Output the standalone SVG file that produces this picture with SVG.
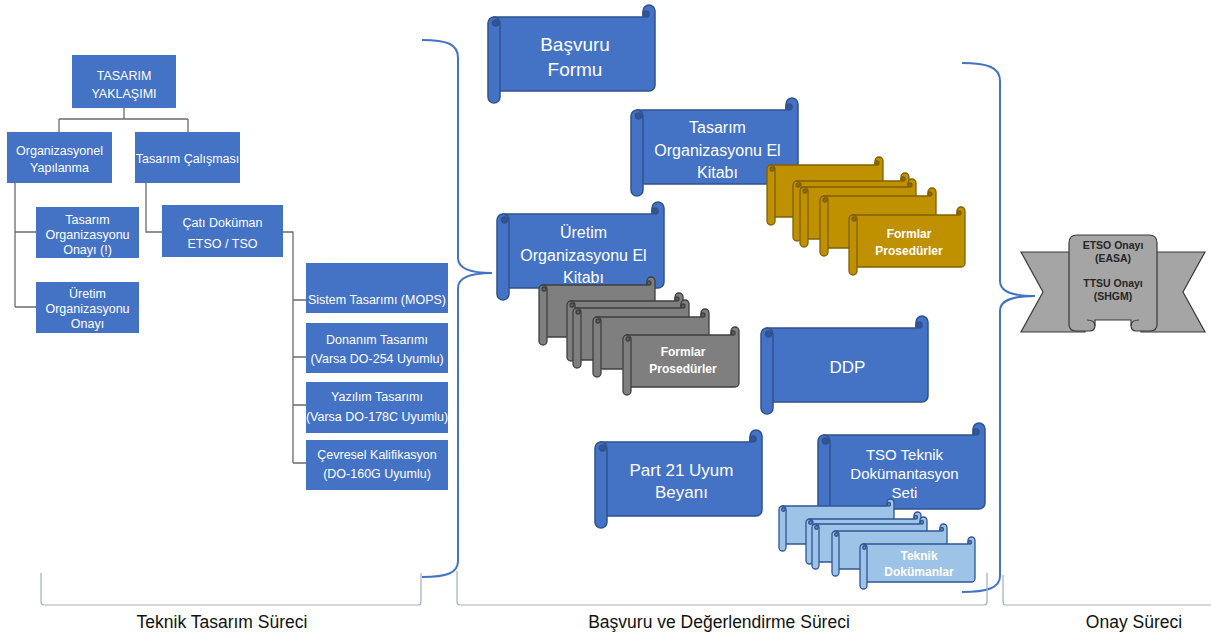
<svg xmlns="http://www.w3.org/2000/svg" width="1211" height="637" viewBox="0 0 1211 637">
<style>
text{font-family:"Liberation Sans",Arial,sans-serif}
.box{fill:#4472c4}
.bt{fill:#fff;font-size:12.5px;text-anchor:middle}
.tl{fill:none;stroke:#6b6b6b;stroke-width:1.3}
.brace{fill:none;stroke:#4472c4;stroke-width:2}
.brk{fill:none;stroke:#a3aebf;stroke-width:1.2}
.blue{fill:#4472c4;stroke:#2f528f;stroke-width:1.5}
.gold{fill:#bf9000;stroke:#7f6000;stroke-width:1.3}
.gray{fill:#7f7f7f;stroke:#3f3f3f;stroke-width:1.3}
.lblue{fill:#9dc3e6;stroke:#2f5597;stroke-width:1.3}
.st{fill:#fff;text-anchor:middle}
.sb{fill:#fff;text-anchor:middle;font-size:12px;font-weight:bold}
.rt{fill:#262626;text-anchor:middle;font-size:10.5px;font-weight:bold}
.rb{fill:#a5a5a5;stroke:#3a3a3a;stroke-width:1.2}
.lab{fill:#111;text-anchor:middle;font-size:17.5px}
</style>
<defs>
<g id="scrollL">
<path d="M6,12 L155,12 L155,6 A6,6 0 0 1 167,6 L167,80 A6,6 0 0 1 161,86 L6,86 Z"/>
<path d="M0,18 A6,6 0 0 1 12,18 L12,92 A6,6 0 0 1 0,92 Z"/>
<circle cx="158" cy="9" r="3" fill="#000" fill-opacity="0.25"/>
<circle cx="7.5" cy="18" r="3" fill="#000" fill-opacity="0.25"/>
</g>
<g id="scrollM">
<path d="M4,8 L108,8 L108,4 A4,4 0 0 1 116,4 L116,56 A4,4 0 0 1 112,60 L4,60 Z"/>
<path d="M0,12 A4,4 0 0 1 8,12 L8,64 A4,4 0 0 1 0,64 Z"/>
<circle cx="110" cy="6" r="2" fill="#000" fill-opacity="0.25"/>
<circle cx="5" cy="12" r="2" fill="#000" fill-opacity="0.25"/>
</g>
<g id="scrollS">
<path d="M3.5,7 L108,7 L108,3.5 A3.5,3.5 0 0 1 115,3.5 L115,41.5 A3.5,3.5 0 0 1 111.5,45 L3.5,45 Z"/>
<path d="M0,10.5 A3.5,3.5 0 0 1 7,10.5 L7,48.5 A3.5,3.5 0 0 1 0,48.5 Z"/>
<circle cx="109.75" cy="5.25" r="1.75" fill="#000" fill-opacity="0.25"/>
<circle cx="4.4" cy="10.5" r="1.75" fill="#000" fill-opacity="0.25"/>
</g>
</defs>

<g id="connectors">
<path class="tl" d="M124,108 L124,119 M59,119 L188,119 M59,119 L59,132 M188,119 L188,132"/>
<path class="tl" d="M15,183 L15,307 M15,232 L36,232 M15,307 L36,307"/>
<path class="tl" d="M146,183 L146,232 L162,232"/>
<path class="tl" d="M283,232 L293,232 L293,463 M293,300 L306,300 M293,357 L306,357 M293,405 L306,405 M293,463 L306,463"/>
<path class="brace" d="M422,40 C447,40 458,44 458,58 L458,258 C458,268 468,273 492,273 C468,273 458,278 458,288 L458,561 C458,573 447,577 422,577"/>
<path class="brace" d="M962,63 C987,63 1000,67 1000,81 L1000,281 C1000,291 1010,296 1035,296 C1010,296 1000,301 1000,311 L1000,576 C1000,588 987,592 962,592"/>
<path class="brk" d="M41,573 L41,602 Q41,605 44,605 L418,605 Q421,605 421,602 L421,573"/>
<path class="brk" d="M457,571 L457,602 Q457,605 460,605 L984,605 Q987,605 987,602 L987,573"/>
<path class="brk" d="M1003,575 L1003,602 Q1003,605 1006,605 L1211,605"/>
</g>

<g id="n-tasarim-yaklasimi"><rect class="box" x="72" y="55" width="104" height="53"/>
<text class="bt" x="124" y="79.5">TASARIM</text><text class="bt" x="124" y="97.5">YAKLAŞIMI</text></g>
<g id="n-org-yapilanma"><rect class="box" x="7" y="132" width="105" height="51"/>
<text class="bt" x="59.5" y="154.5">Organizasyonel</text><text class="bt" x="59.5" y="171.5">Yapılanma</text></g>
<g id="n-tasarim-calismasi"><rect class="box" x="135" y="132" width="105" height="51"/>
<text class="bt" x="187.5" y="162.5">Tasarım Çalışması</text></g>
<g id="n-tasarim-org-onayi"><rect class="box" x="36" y="207" width="103" height="51"/>
<text class="bt" x="87.5" y="223.5">Tasarım</text><text class="bt" x="87.5" y="238.5">Organizasyonu</text><text class="bt" x="87.5" y="253.5">Onayı (!)</text></g>
<g id="n-uretim-org-onayi"><rect class="box" x="36" y="282" width="103" height="51"/>
<text class="bt" x="87.5" y="297.5">Üretim</text><text class="bt" x="87.5" y="312.5">Organizasyonu</text><text class="bt" x="87.5" y="327.5">Onayı</text></g>
<g id="n-cati-dokuman"><rect class="box" x="162" y="205" width="121" height="52"/>
<text class="bt" x="222.5" y="226.5">Çatı Doküman</text><text class="bt" x="222.5" y="247.5">ETSO / TSO</text></g>
<g id="n-sistem"><rect class="box" x="306" y="263" width="142" height="50"/>
<text class="bt" x="377" y="304">Sistem Tasarımı (MOPS)</text></g>
<g id="n-donanim"><rect class="box" x="306" y="323" width="142" height="50"/>
<text class="bt" x="377" y="343.5">Donanım Tasarımı</text><text class="bt" x="377" y="362.5">(Varsa DO-254 Uyumlu)</text></g>
<g id="n-yazilim"><rect class="box" x="306" y="382" width="142" height="51"/>
<text class="bt" x="377" y="400.5">Yazılım Tasarımı</text><text class="bt" x="377" y="420.5" font-size="12">(Varsa DO-178C Uyumlu)</text></g>
<g id="n-cevresel"><rect class="box" x="306" y="440" width="142" height="50"/>
<text class="bt" x="377" y="458.5">Çevresel Kalifikasyon</text><text class="bt" x="377" y="477.5">(DO-160G Uyumlu)</text></g>

<g id="n-basvuru-formu"><use href="#scrollL" class="blue" x="488" y="5"/>
<text class="st" font-size="19" x="575" y="50.5">Başvuru</text><text class="st" font-size="19" x="575" y="75.5">Formu</text></g>

<g id="n-tasarim-el-kitabi"><use href="#scrollL" class="blue" x="631" y="98"/>
<text class="st" font-size="16" x="717.5" y="132.5">Tasarım</text><text class="st" font-size="16" x="717.5" y="155.5">Organizasyonu El</text><text class="st" font-size="16" x="717.5" y="177.5">Kitabı</text></g>

<g id="n-formlar-gold">
<use href="#scrollM" class="gold" x="767" y="157"/>
<use href="#scrollM" class="gold" x="793" y="173"/>
<use href="#scrollM" class="gold" x="800" y="179"/>
<use href="#scrollM" class="gold" x="820" y="188"/>
<use href="#scrollM" class="gold" x="849" y="207"/>
<text class="sb" x="909" y="238.3">Formlar</text><text class="sb" x="909" y="255.3">Prosedürler</text></g>

<g id="n-uretim-el-kitabi"><use href="#scrollL" class="blue" x="497" y="202"/>
<text class="st" font-size="16" x="583.5" y="237.5">Üretim</text><text class="st" font-size="16" x="583.5" y="260.5">Organizasyonu El</text><text class="st" font-size="16" x="583.5" y="282.5">Kitabı</text></g>

<g id="n-formlar-gray">
<use href="#scrollM" class="gray" x="539" y="277"/>
<use href="#scrollM" class="gray" x="567" y="293"/>
<use href="#scrollM" class="gray" x="573" y="300"/>
<use href="#scrollM" class="gray" x="593" y="309"/>
<use href="#scrollM" class="gray" x="623" y="327"/>
<text class="sb" x="683" y="356.3">Formlar</text><text class="sb" x="683" y="373.3">Prosedürler</text></g>

<g id="n-ddp"><use href="#scrollL" class="blue" x="761" y="316"/>
<text class="st" font-size="17" x="847.5" y="373">DDP</text></g>

<g id="n-part21"><use href="#scrollL" class="blue" x="595" y="430"/>
<text class="st" font-size="17" x="681.5" y="475.5">Part 21 Uyum</text><text class="st" font-size="17" x="681.5" y="497.5">Beyanı</text></g>

<g id="n-tso"><use href="#scrollL" class="blue" x="818" y="423"/>
<text class="st" font-size="15" x="904.5" y="460.3">TSO Teknik</text><text class="st" font-size="15" x="904.5" y="479.3">Dokümantasyon</text><text class="st" font-size="15" x="904.5" y="498">Seti</text></g>

<g id="n-teknik-dokumanlar">
<use href="#scrollS" class="lblue" x="779" y="499"/>
<use href="#scrollS" class="lblue" x="806" y="512"/>
<use href="#scrollS" class="lblue" x="812" y="517"/>
<use href="#scrollS" class="lblue" x="832" y="524"/>
<use href="#scrollS" class="lblue" x="860" y="537"/>
<text class="sb" x="919" y="560.3">Teknik</text><text class="sb" x="919" y="576.3">Dokümanlar</text></g>

<g id="n-onay">
<path class="rb" d="M1021,252 L1085,252 L1085,332 L1021,332 L1043,292 Z"/>
<path class="rb" d="M1205,252 L1141,252 L1141,332 L1205,332 L1183,292 Z"/>
<path class="rb" d="M1077,235 L1149,235 Q1157,235 1157,243 L1157,324 Q1157,331 1150,331 L1136,331 Q1131,331 1131,325 L1131,320 L1095,320 L1095,325 Q1095,331 1090,331 L1076,331 Q1069,331 1069,324 L1069,243 Q1069,235 1077,235 Z"/>
<path d="M1087,320 Q1095,320 1095,326 M1139,320 Q1131,320 1131,326" fill="none" stroke="#3a3a3a" stroke-width="1.2"/>
<text class="rt" x="1113" y="249">ETSO Onayı</text><text class="rt" x="1113" y="262">(EASA)</text>
<text class="rt" x="1113" y="287">TTSU Onayı</text><text class="rt" x="1113" y="300">(SHGM)</text></g>

<g id="labels">
<text class="lab" x="222" y="628">Teknik Tasarım Süreci</text>
<text class="lab" x="719" y="628">Başvuru ve Değerlendirme Süreci</text>
<text class="lab" x="1134" y="628">Onay Süreci</text>
</g>
</svg>
